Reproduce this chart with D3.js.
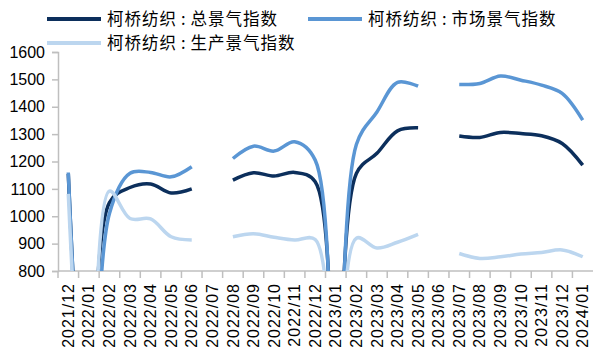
<html>
  <head>
    <meta charset="utf-8" />
    <style>
      body { margin: 0; background: #fff; }
      text { font-family: 'Liberation Sans', Arial, 'Noto Sans CJK SC', sans-serif; fill: #000; }
      .cjk { font-family: 'Noto Sans CJK SC', sans-serif; }
    </style>
  </head>
  <body>
    <script src="https://d3js.org/d3.v7.min.js"></script>

    <svg id="chart" width="593" height="349"></svg>

    <script>
      const months = [
        '2021/12', '2022/01', '2022/02', '2022/03', '2022/04', '2022/05', '2022/06',
        '2022/07', '2022/08', '2022/09', '2022/10', '2022/11', '2022/12', '2023/01',
        '2023/02', '2023/03', '2023/04', '2023/05', '2023/06', '2023/07', '2023/08',
        '2023/09', '2023/10', '2023/11', '2023/12', '2024/01',
      ];
      // null = no data (gap), 0 = value falls off the bottom of the axis
      const totalIndex = [
        1155, 0, 1050, 1105, 1118, 1085, 1100,
        null, 1132, 1159, 1147, 1160, 1126, 0,
        1156, 1230, 1312, 1323, null, 1293, 1288,
        1306, 1302, 1294, 1266, 1187,
      ];
      const marketIndex = [
        1160, 0, 1010, 1157, 1160, 1144, 1181,
        null, 1211, 1256, 1238, 1272, 1205, 0,
        1262, 1381, 1489, 1475, null, 1481, 1485,
        1512, 1497, 1479, 1449, 1351,
      ];
      const productionIndex = [
        1082, 0, 1092, 992, 990, 925, 913,
        null, 925, 936, 923, 913, 915, 0,
        920, 884, 905, 934, null, 864, 846,
        852, 862, 868, 877, 852,
      ];
      const yTicks = [800, 900, 1000, 1100, 1200, 1300, 1400, 1500, 1600];

      const series = [
        { name: '柯桥纺织:总景气指数', values: totalIndex, color: '#0c2f5c' },
        { name: '柯桥纺织:市场景气指数', values: marketIndex, color: '#5a96d4' },
        { name: '柯桥纺织:生产景气指数', values: productionIndex, color: '#bcd6ef' },
      ];

      const svg = d3.select('#chart');
      const plotLeft = 58, plotRight = 593, plotTop = 52, plotBottom = 271;

      const x = d3.scaleBand().domain(months).range([plotLeft, plotRight]);
      const y = d3.scaleLinear().domain([800, 1600]).range([plotBottom, plotTop]);

      svg.append('clipPath').attr('id', 'plot')
        .append('rect')
        .attr('x', plotLeft).attr('y', 0)
        .attr('width', plotRight - plotLeft).attr('height', plotBottom);

      // y axis
      const yAxis = svg.append('g')
        .attr('transform', `translate(${plotLeft},0)`)
        .call(d3.axisLeft(y).tickValues(yTicks).tickSize(6).tickPadding(7).tickFormat(d3.format('d')));
      yAxis.selectAll('text').style('font-size', '16px');
      yAxis.select('.domain').attr('stroke', '#bfbfbf').attr('stroke-width', 1.5);
      yAxis.selectAll('.tick line').attr('stroke', '#bfbfbf').attr('stroke-width', 1.5);

      // x axis, ticks on band boundaries
      const xAxis = svg.append('g').attr('transform', `translate(0,${plotBottom})`);
      xAxis.append('line')
        .attr('x1', plotLeft).attr('x2', plotRight)
        .attr('stroke', '#bfbfbf').attr('stroke-width', 1.5);
      xAxis.selectAll('.xtick')
        .data(months)
        .enter()
        .append('line')
        .attr('class', 'xtick')
        .attr('x1', (d) => x(d)).attr('x2', (d) => x(d))
        .attr('y1', 0).attr('y2', 7)
        .attr('stroke', '#bfbfbf').attr('stroke-width', 1.5);
      xAxis.selectAll('.xlabel')
        .data(months)
        .enter()
        .append('text')
        .attr('class', 'xlabel')
        .attr('transform', (d) => `translate(${x(d) + x.bandwidth() / 2},12) rotate(-90)`)
        .attr('text-anchor', 'end')
        .attr('dy', '0.35em')
        .style('font-size', '16px')
        .style('letter-spacing', '1px')
        .text((d) => d);

      const line = d3.line()
        .defined((d) => d != null)
        .x((_, i) => x(months[i]) + x.bandwidth() / 2)
        .y((d) => y(d))
        .curve(d3.curveCatmullRom.alpha(0.5));

      svg.append('g')
        .attr('clip-path', 'url(#plot)')
        .selectAll('path')
        .data(series)
        .enter()
        .append('path')
        .attr('d', (d) => line(d.values))
        .attr('fill', 'none')
        .attr('stroke', (d) => d.color)
        .attr('stroke-width', 3.5)
        .attr('stroke-linejoin', 'round');

      // legend
      const legendPos = [[47, 19], [308, 19], [47, 43]];
      const legend = svg.selectAll('.legend')
        .data(series)
        .enter()
        .append('g')
        .attr('class', 'legend')
        .attr('transform', (_, i) => `translate(${legendPos[i][0]},${legendPos[i][1]})`);
      legend.append('line')
        .attr('x1', 0).attr('x2', 54)
        .attr('stroke', (d) => d.color)
        .attr('stroke-width', 4);
      const legendText = legend.append('text')
        .attr('class', 'cjk')
        .attr('x', 60)
        .attr('dy', '0.35em')
        .style('font-size', '16.5px')
        .style('letter-spacing', '1px');
      // the colon sits in a wider slot in the reference
      legendText.append('tspan').text((d) => d.name.split(':')[0]);
      legendText.append('tspan').attr('dx', 4).text(':');
      legendText.append('tspan').attr('dx', 4).text((d) => d.name.split(':')[1]);
    </script>
  </body>
</html>
